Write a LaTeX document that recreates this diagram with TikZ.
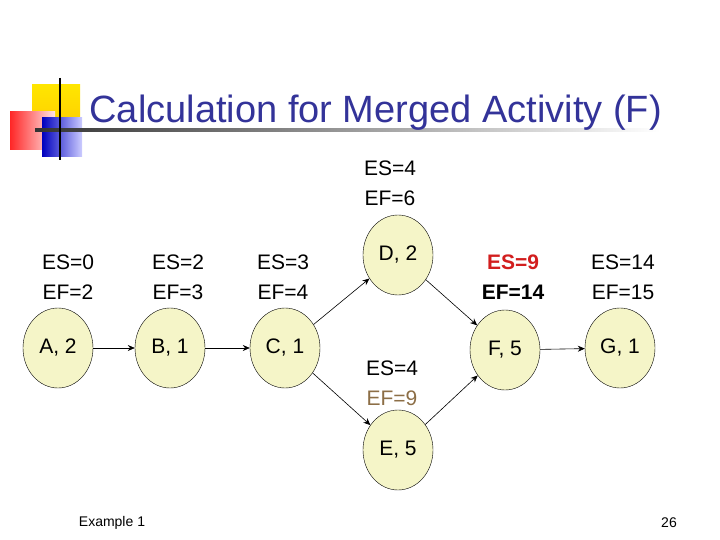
\documentclass[tikz,border=0pt]{standalone}
\usepackage{fontspec}
\setmainfont{Liberation Sans}
\usetikzlibrary{arrows.meta,shapes.geometric}
\definecolor{titleblue}{RGB}{51,51,153}
\definecolor{nodefill}{RGB}{245,245,200}
\definecolor{efbrown}{RGB}{140,110,70}
\definecolor{esred}{RGB}{210,30,30}
\begin{document}
\begin{tikzpicture}[x=1pt,y=-1pt,
  act/.style={ellipse,draw=black,fill=nodefill,minimum width=70pt,minimum height=80pt,inner sep=0pt,font=\fontsize{21}{24}\selectfont},
  lab/.style={align=center,font=\fontsize{21}{30}\selectfont},
  arr/.style={-{Stealth[length=7pt,width=6pt]},semithick}]
\useasboundingbox (0,0) rectangle (720,540);
% logo
\shade[top color=yellow!80!orange, bottom color=yellow!60!orange] (32,85) rectangle (80,132);
\shade[left color=red!85, right color=red!10] (10,112) rectangle (55,150);
\shade[left color=blue!75!black, right color=blue!20] (42,118) rectangle (82,157);
\shade[left color=black!80, right color=white] (35,129) rectangle (660,132);
\draw[line width=1.5pt] (60,78) -- (60,160);
\node[font=\fontsize{38}{42}\selectfont,text=titleblue,anchor=west] (title) at (86,113) {Calculation for Merged Activity (F)};
% nodes
\node[act] (A) at (58,348) {A, 2};
\node[act] (B) at (170,348) {B, 1};
\node[act] (C) at (285,348) {C, 1};
\node[act] (D) at (398,255) {D, 2};
\node[act] (E) at (398,450) {E, 5};
\node[act] (F) at (505,350) {F, 5};
\node[act] (G) at (620,348) {G, 1};
\draw[arr] (A) -- (B);
\draw[arr] (B) -- (C);
\draw[arr] (C) -- (D);
\draw[arr] (C) -- (E);
\draw[arr] (D) -- (F);
\draw[arr] (E) -- (F);
\draw[arr] (F) -- (G);
% labels
\node[lab] (la) at (68,277) {ES=0\\EF=2};
\node[lab] (lb) at (178,277) {ES=2\\EF=3};
\node[lab] (lc) at (283,277) {ES=3\\EF=4};
\node[lab] (ld) at (390,183) {ES=4\\EF=6};
\node[lab] (le) at (392,383) {ES=4\\\textcolor{efbrown}{EF=9}};
\node[lab,font=\fontsize{21}{30}\selectfont\bfseries] (lf) at (513,277) {\textcolor{esred}{ES=9}\\EF=14};
\node[lab] (lg) at (623,277) {ES=14\\EF=15};
\node[font=\fontsize{14}{16}\selectfont] (ex) at (112,523) {Example 1};
\node[font=\fontsize{14}{16}\selectfont] (pg) at (669,523) {26};
\end{tikzpicture}
\end{document}
